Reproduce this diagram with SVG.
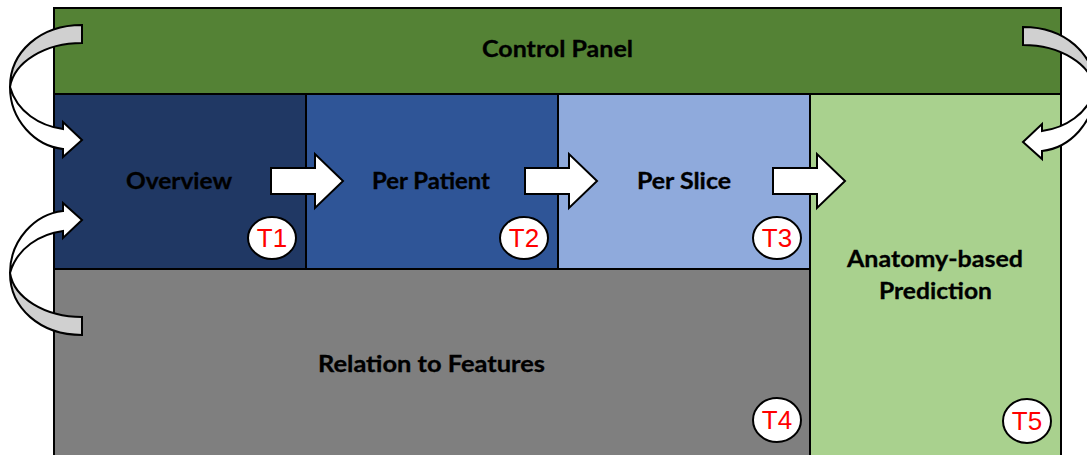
<svg xmlns="http://www.w3.org/2000/svg" width="1087" height="455" viewBox="0 0 1087 455">
  <defs>
    <style>
      .panel { stroke: #000; stroke-width: 2; }
      .title { font-family: Lato, "Liberation Sans", sans-serif; font-weight: bold; font-size: 22px; fill: #000; text-anchor: middle; stroke: #000; stroke-width: 0.3; }
      .badge ellipse { fill: #fff; stroke: #000; stroke-width: 2; }
      .badge text { font-family: "Liberation Sans", Arial, sans-serif; font-size: 26px; fill: #ff0000; text-anchor: middle; }
      .flow { fill: #fff; stroke: #000; stroke-width: 2; stroke-linejoin: miter; }
      .back { fill: #d0d0d0; stroke: #000; stroke-width: 2; }
    </style>
    <!-- curved loop arrow: grey back band from the tail, white front band to the head -->
    <g id="loop">
      <path class="back" d="M82,25 C40,25 10,52 10,87 C14,62 45,43 82,43 Z"/>
      <path class="flow" d="M10,87 C10,120 35,146 63,149 L63,157 L82,140 L63,122 L63,129 C40,126 17,112 10,87 Z"/>
    </g>
  </defs>

  <!-- panels -->
  <g id="control-panel">
    <rect class="panel" x="54" y="8" width="1007" height="86" fill="#548235"/>
    <text class="title" x="557.5" y="57" textLength="151" lengthAdjust="spacingAndGlyphs">Control Panel</text>
  </g>
  <g id="overview">
    <rect class="panel" x="54" y="94" width="252" height="175" fill="#203864"/>
    <text class="title" x="179" y="189" textLength="106" lengthAdjust="spacingAndGlyphs">Overview</text>
  </g>
  <g id="per-patient">
    <rect class="panel" x="306" y="94" width="252" height="175" fill="#2f5597"/>
    <text class="title" x="431" y="189" textLength="118" lengthAdjust="spacingAndGlyphs">Per Patient</text>
  </g>
  <g id="per-slice">
    <rect class="panel" x="558" y="94" width="252" height="175" fill="#8faadc"/>
    <text class="title" x="684" y="189" textLength="94" lengthAdjust="spacingAndGlyphs">Per Slice</text>
  </g>
  <g id="relation-to-features">
    <rect class="panel" x="54" y="269" width="756" height="200" fill="#7f7f7f"/>
    <text class="title" x="431.5" y="372" textLength="227" lengthAdjust="spacingAndGlyphs">Relation to Features</text>
  </g>
  <g id="anatomy-based-prediction">
    <rect class="panel" x="810" y="94" width="251" height="375" fill="#a9d18e"/>
    <text class="title" x="935" y="267" textLength="176" lengthAdjust="spacingAndGlyphs">Anatomy-based</text>
    <text class="title" x="935.5" y="299" textLength="113" lengthAdjust="spacingAndGlyphs">Prediction</text>
  </g>

  <!-- task badges -->
  <g class="badge" id="t1"><ellipse cx="272" cy="238" rx="24" ry="21"/><text x="272" y="247">T1</text></g>
  <g class="badge" id="t2"><ellipse cx="524" cy="238" rx="24" ry="21"/><text x="524" y="247">T2</text></g>
  <g class="badge" id="t3"><ellipse cx="777" cy="238" rx="24" ry="21"/><text x="777" y="247">T3</text></g>
  <g class="badge" id="t4"><ellipse cx="777" cy="420" rx="24" ry="22"/><text x="777" y="429">T4</text></g>
  <g class="badge" id="t5"><ellipse cx="1027" cy="421" rx="24" ry="22"/><text x="1027" y="430">T5</text></g>

  <!-- connectors -->
  <g id="connectors">
    <path class="flow" d="M271,168 L315,168 L315,154 L343,181 L315,208 L315,194 L271,194 Z"/>
    <path class="flow" d="M525,168 L569,168 L569,154 L597,181 L569,208 L569,194 L525,194 Z"/>
    <path class="flow" d="M773,168 L817,168 L817,154 L845,181 L817,208 L817,194 L773,194 Z"/>
    <use href="#loop"/>
    <use href="#loop" transform="translate(0,360) scale(1,-1)"/>
    <use href="#loop" transform="translate(1105,2) scale(-1,1)"/>
  </g>
</svg>
